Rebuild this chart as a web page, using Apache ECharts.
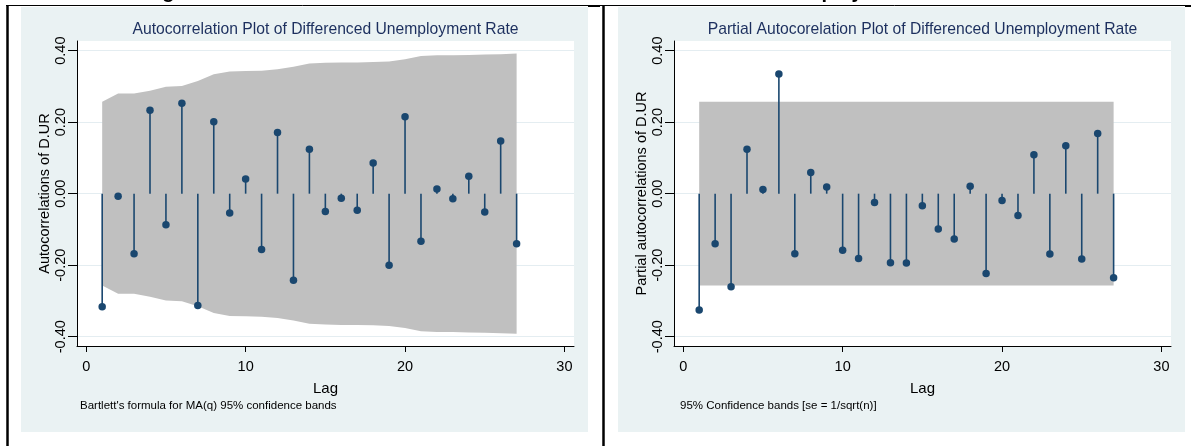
<!DOCTYPE html>
<html>
<head>
<meta charset="utf-8">
<script src="https://cdn.jsdelivr.net/npm/echarts@6/dist/echarts.min.js"></script>
<style>
  html, body { margin: 0; padding: 0; background: #fff; }
  #chart { width: 1191px; height: 446px; }
</style>
</head>
<body>
<div id="chart"></div>
<script>
const lags = [1, 2, 3, 4, 5, 6, 7, 8, 9, 10, 11, 12, 13, 14, 15, 16, 17, 18, 19, 20, 21, 22, 23, 24, 25, 26, 27]
const acfValues = [-0.316, -0.007, -0.168, 0.233, -0.087, 0.253, -0.313, 0.201, -0.054, 0.041, -0.156, 0.171, -0.242,
  0.124, -0.050, -0.013, -0.046, 0.086, -0.200, 0.215, -0.133, 0.013, -0.014, 0.049, -0.051, 0.147, -0.140]
// Bartlett band half-width per lag
const acfBand = [0.257, 0.280, 0.280, 0.288, 0.299, 0.301, 0.315, 0.334, 0.342, 0.343, 0.344, 0.348, 0.355,
  0.364, 0.366, 0.367, 0.367, 0.368, 0.370, 0.376, 0.385, 0.387, 0.387, 0.388, 0.389, 0.390, 0.392]
const pacfValues = [-0.325, -0.140, -0.260, 0.124, 0.012, 0.335, -0.168, 0.059, 0.019, -0.158, -0.181, -0.025, -0.193,
  -0.194, -0.034, -0.099, -0.127, 0.021, -0.223, -0.019, -0.061, 0.109, -0.169, 0.134, -0.183, 0.168, -0.235]
const pacfLimit = 0.257
const xTicks = [0, 10, 20, 30]
const yTicks = [-0.4, -0.2, 0, 0.2, 0.4]

const FONT = 'Liberation Sans'
const NAVY = '#1a476f'
const BAND = '#c0c0c0'
const PANEL_BG = '#eaf2f3'

const chart = echarts.init(document.getElementById('chart'))

function xAxis(idx) {
  return {
    type: 'value',
    gridIndex: idx,
    min: -0.58,
    max: 30.6,
    name: 'Lag',
    nameLocation: 'middle',
    nameGap: 35,
    nameTextStyle: { fontSize: 15, color: '#000', fontFamily: FONT },
    axisLine: { onZero: false, lineStyle: { color: '#000', width: 1 } },
    axisTick: { customValues: xTicks, length: 6, lineStyle: { color: '#000' } },
    axisLabel: { customValues: xTicks, fontSize: 14.5, color: '#000', margin: 13, fontFamily: FONT },
    splitLine: { show: false },
  }
}

function yAxis(idx, name) {
  return {
    type: 'value',
    gridIndex: idx,
    min: -0.426,
    max: 0.427,
    name,
    nameLocation: 'middle',
    nameGap: 24,
    nameRotate: 90,
    nameTextStyle: { fontSize: 14.5, color: '#000', fontFamily: FONT },
    axisLine: { show: true, onZero: false, lineStyle: { color: '#000', width: 1 } },
    axisTick: { show: true, customValues: yTicks, length: 9, lineStyle: { color: '#000' } },
    axisLabel: {
      customValues: yTicks,
      rotate: 90,
      margin: 9,
      fontSize: 14.5,
      color: '#000',
      fontFamily: FONT,
      formatter: (v) => v.toFixed(2),
    },
    splitLine: { show: true, lineStyle: { color: '#e4edf1', width: 1 } },
  }
}

// confidence band drawn as one polygon through the axis scales
function bandSeries(idx, half) {
  return {
    type: 'custom',
    xAxisIndex: idx,
    yAxisIndex: idx,
    silent: true,
    z: 1,
    data: lags.map((l, i) => [l, half[i], -half[i]]),
    renderItem(params, api) {
      if (params.dataIndex !== 0) return null
      const upper = lags.map((l, i) => api.coord([l, half[i]]))
      const lower = lags.map((l, i) => api.coord([l, -half[i]])).reverse()
      return {
        type: 'polygon',
        shape: { points: upper.concat(lower) },
        style: { fill: BAND },
      }
    },
  }
}

function stemSeries(idx, values) {
  const pts = lags.map((l, i) => [l, values[i]])
  return [
    {
      type: 'bar',
      xAxisIndex: idx,
      yAxisIndex: idx,
      barWidth: 1.6,
      itemStyle: { color: NAVY },
      data: pts,
      z: 3,
    },
    {
      type: 'scatter',
      xAxisIndex: idx,
      yAxisIndex: idx,
      symbolSize: 7.5,
      itemStyle: { color: NAVY, opacity: 1 },
      data: pts,
      z: 4,
    },
  ]
}

function text(x, y, str, size, opts = {}) {
  return {
    type: 'text',
    x,
    y,
    z: 50,
    style: Object.assign({
      text: str,
      fontSize: size,
      fontFamily: FONT,
      fill: '#000',
      align: 'left',
      textAlign: 'left',
      verticalAlign: 'middle',
      textVerticalAlign: 'middle',
    }, opts),
  }
}

function line(x1, y1, x2, y2, w) {
  return { type: 'line', z: 60, shape: { x1, y1, x2, y2 }, style: { stroke: '#000', lineWidth: w } }
}

chart.setOption({
  animation: false,
  backgroundColor: '#fff',
  grid: [
    { left: 77, top: 41, width: 497, height: 305, show: true, backgroundColor: '#fff', borderWidth: 0, outerBoundsMode: 'none' },
    { left: 674, top: 41, width: 497, height: 305, show: true, backgroundColor: '#fff', borderWidth: 0, outerBoundsMode: 'none' },
  ],
  xAxis: [xAxis(0), xAxis(1)],
  yAxis: [yAxis(0, 'Autocorrelations of D.UR'), yAxis(1, 'Partial autocorrelations of D.UR')],
  series: [
    bandSeries(0, acfBand),
    ...stemSeries(0, acfValues),
    bandSeries(1, lags.map(() => pacfLimit)),
    ...stemSeries(1, pacfValues),
  ],
  graphic: [
    { type: 'rect', z: -10, shape: { x: 21, y: 7, width: 567, height: 425 }, style: { fill: PANEL_BG } },
    { type: 'rect', z: -10, shape: { x: 618, y: 7, width: 567, height: 425 }, style: { fill: PANEL_BG } },
    text(325.5, 30, 'Autocorrelation Plot of Differenced Unemployment Rate', 15.7,
      { fill: '#1c2f5e', align: 'center', textAlign: 'center' }),
    text(922.5, 30, 'Partial Autocorelation Plot of Differenced Unemployment Rate', 15.7,
      { fill: '#1c2f5e', align: 'center', textAlign: 'center' }),
    text(80, 406, "Bartlett's formula for MA(q) 95% confidence bands", 11.5),
    text(680, 406, '95% Confidence bands [se = 1/sqrt(n)]', 11.5),
    // headings above the view, only their descenders show
    text(49, -8, 'Autocorrelogram', 20, { fontWeight: 'bold' }),
    text(766, -8, 'Unemployment', 20, { fontWeight: 'bold' }),
    line(6, 5.5, 1191, 5.5, 1),
    { type: 'rect', z: 60, shape: { x: 588, y: 5, width: 12, height: 2 }, style: { fill: '#000' } },
    { type: 'rect', z: 60, shape: { x: 1185, y: 5, width: 6, height: 2 }, style: { fill: '#000' } },
    line(7.5, 5, 7.5, 446, 2.5),
    line(603.5, 5, 603.5, 446, 2.5),
  ],
})
</script>
</body>
</html>
